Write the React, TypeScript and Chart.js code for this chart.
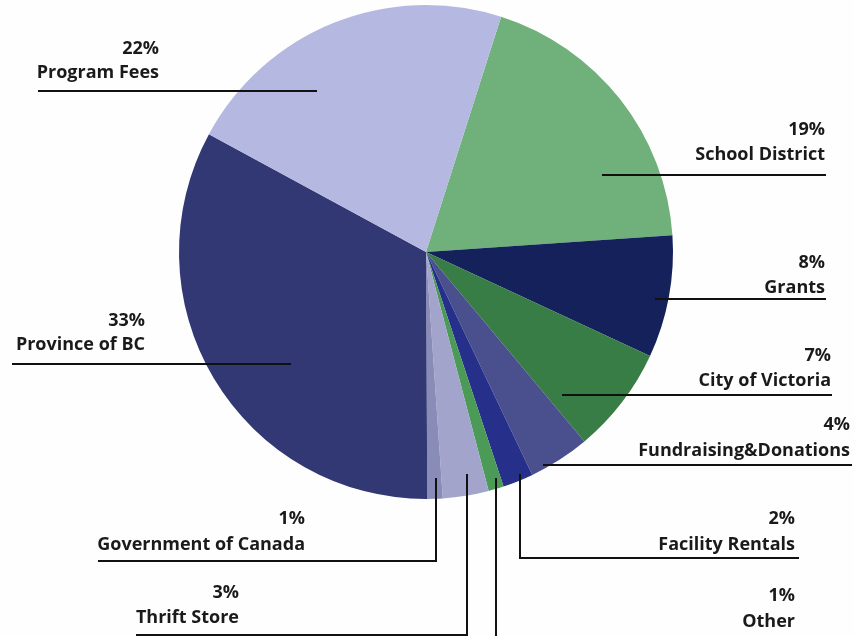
import React, { useEffect, useRef } from "react";
import Chart from "chart.js/auto";

const categories = [
  "School District",
  "Grants",
  "City of Victoria",
  "Fundraising&Donations",
  "Facility Rentals",
  "Other",
  "Thrift Store",
  "Government of Canada",
  "Province of BC",
  "Program Fees",
];
const values = [19, 8, 7, 4, 2, 1, 3, 1, 33, 22];
const percentLabels = ["19%", "8%", "7%", "4%", "2%", "1%", "3%", "1%", "33%", "22%"];
const colors = [
  "#6fb07b",
  "#14215b",
  "#387d45",
  "#4a4f8e",
  "#26308a",
  "#4b9a58",
  "#a2a4cc",
  "#8a8cb8",
  "#313873",
  "#b5b8e0",
];

// annotation layout: text right edge, percent baseline, name baseline, leader line
type Lay = { tx: number; py: number; ny: number; ly: number; x1: number; x2: number; vx?: number; vTop?: number };
const labelLayout: Lay[] = [
  { tx: 825, py: 135, ny: 160, ly: 175, x1: 602, x2: 826 },
  { tx: 825, py: 268, ny: 293, ly: 299, x1: 655, x2: 826 },
  { tx: 831, py: 361, ny: 386, ly: 395, x1: 562, x2: 832 },
  { tx: 850, py: 430, ny: 456, ly: 465, x1: 543, x2: 852 },
  { tx: 795, py: 524, ny: 550, ly: 558, x1: 520, x2: 799, vx: 520, vTop: 474 },
  { tx: 795, py: 601, ny: 627, ly: 645, x1: 496, x2: 799, vx: 496, vTop: 478 },
  { tx: 239, py: 598, ny: 623, ly: 635, x1: 136, x2: 467, vx: 467, vTop: 474 },
  { tx: 305, py: 524, ny: 550, ly: 561, x1: 98, x2: 436, vx: 436, vTop: 478 },
  { tx: 145, py: 326, ny: 350, ly: 364, x1: 12, x2: 291 },
  { tx: 159, py: 54, ny: 78, ly: 91, x1: 38, x2: 317 },
];

const labelPlugin = {
  id: "calloutLabels",
  afterDatasetsDraw(chart: any) {
    const ctx = chart.ctx;
    ctx.save();
    ctx.font = "bold 18px 'Open Sans'";
    ctx.fillStyle = "#1a1a1a";
    ctx.textAlign = "right";
    ctx.textBaseline = "alphabetic";
    ctx.strokeStyle = "#111111";
    ctx.lineWidth = 2;
    labelLayout.forEach((l, i) => {
      ctx.fillText(percentLabels[i], l.tx, l.py);
      ctx.fillText(categories[i], l.tx, l.ny);
      ctx.beginPath();
      if (l.vx !== undefined) {
        ctx.moveTo(l.vx, l.vTop);
        ctx.lineTo(l.vx, l.ly);
        ctx.lineTo(l.vx === l.x1 ? l.x2 : l.x1, l.ly);
      } else {
        ctx.moveTo(l.x1, l.ly);
        ctx.lineTo(l.x2, l.ly);
      }
      ctx.stroke();
    });
    ctx.restore();
  },
};

export default function App() {
  const ref = useRef<HTMLCanvasElement | null>(null);
  useEffect(() => {
    if (!ref.current) return;
    const chart = new Chart(ref.current, {
      type: "pie",
      data: {
        labels: categories,
        datasets: [
          {
            data: values,
            backgroundColor: colors,
            borderWidth: 0,
          },
        ],
      },
      options: {
        animation: false,
        responsive: false,
        devicePixelRatio: 1,
        rotation: 17.7,
        layout: { padding: { left: 179, right: 181, top: 5, bottom: 137 } },
        plugins: {
          legend: { display: false },
          tooltip: { enabled: false },
        },
      },
      plugins: [labelPlugin],
    });
    return () => chart.destroy();
  }, []);
  return (
    <div style={{ position: "fixed", left: 0, top: 0, width: 854, height: 636, background: "#fdfefd" }}>
      <canvas ref={ref} width={854} height={636} />
    </div>
  );
}
